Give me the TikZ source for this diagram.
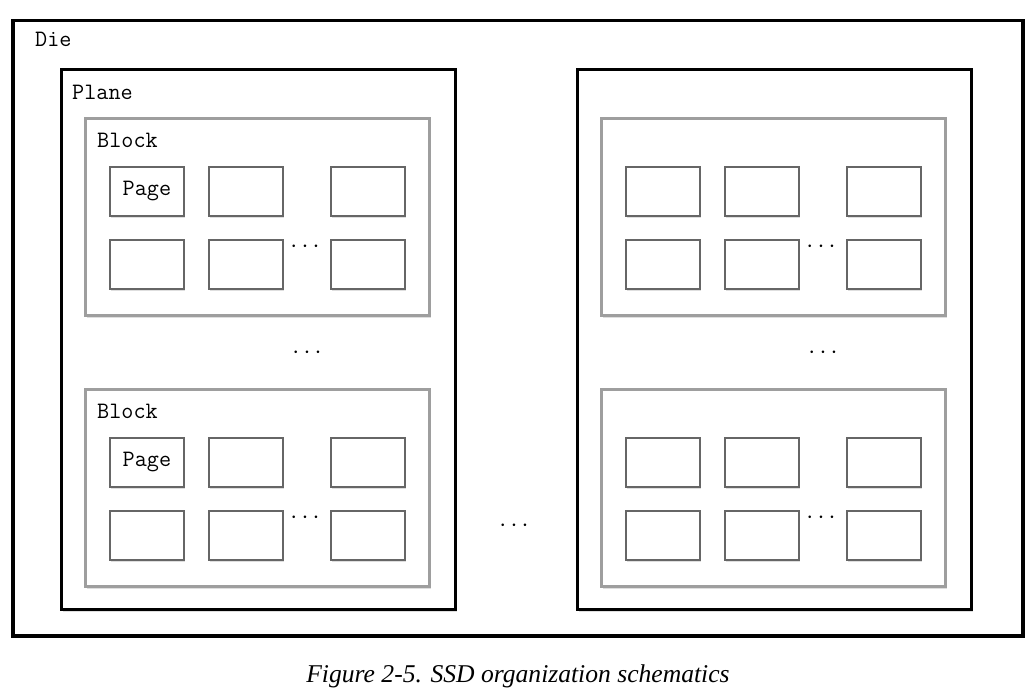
\documentclass[tikz,border=0pt]{standalone}
\usepackage{fontspec}
\newfontfamily\capfont{Liberation Serif}
\usetikzlibrary{shadows}

\tikzset{
  softshadow/.style={drop shadow={shadow xshift=1pt, shadow yshift=-2.5pt, opacity=0.13, fill=black}},
  framebox/.style={draw=black, line width=3pt, anchor=north west, inner sep=0pt},
  blockbox/.style={draw=black!38, line width=3pt, fill=white, anchor=north west,
    inner sep=0pt, minimum width=344pt, minimum height=197pt, softshadow},
  pagebox/.style={draw=black!60, line width=1.8pt, fill=white, anchor=north west,
    inner sep=0pt, minimum width=74pt, minimum height=49pt, softshadow,
    font=\fontsize{23.5}{23.5}\selectfont\ttfamily},
  lbl/.style={font=\fontsize{23.5}{23.5}\selectfont\ttfamily, anchor=base west, inner sep=0pt},
  dotsnode/.style={font=\fontsize{34}{34}\selectfont, inner sep=0pt},
  % one block: frame, optional label, 2x3 pages and the elision dots
  pics/ssdblock/.style 2 args={code={
    \node[blockbox] (-box) at (0,0) {};
    \node[lbl] (-lbl) at (13,31) {#1};
    \node[pagebox] (-p11) at (25,49) {#2};
    \node[pagebox] (-p12) at (124,49) {};
    \node[pagebox] (-p13) at (246,49) {};
    \node[pagebox] (-p21) at (25,122) {};
    \node[pagebox] (-p22) at (124,122) {};
    \node[pagebox] (-p23) at (246,122) {};
    \node[dotsnode] (-dots) at (221,130) {$\cdots$};
  }},
}

\begin{document}
\begin{tikzpicture}[x=1pt,y=-1pt]
  \useasboundingbox (0,0) rectangle (1034,700);

  % die
  \node[framebox, line width=3.5pt, minimum width=1010pt, minimum height=615pt] (die) at (11,19) {};
  \node[lbl] (dielbl) at (35,47) {Die};

  % planes
  \node[framebox, minimum width=394pt, minimum height=540pt, softshadow, fill=white] (plane1) at (60,68) {};
  \node[framebox, minimum width=394pt, minimum height=540pt, softshadow, fill=white] (plane2) at (576,68) {};
  \node[lbl] (planelbl) at (72,100) {Plane};

  % blocks of the first plane
  \pic (b11) at (84,117) {ssdblock={Block}{Page}};
  \pic (b12) at (84,388) {ssdblock={Block}{Page}};
  \node[dotsnode] (pdots1) at (307,353) {$\cdots$};

  % blocks of the second plane
  \pic (b21) at (600,117) {ssdblock={}{}};
  \pic (b22) at (600,388) {ssdblock={}{}};
  \node[dotsnode] (pdots2) at (823,353) {$\cdots$};

  % more planes
  \node[dotsnode] (diedots) at (514,526) {$\cdots$};

  % caption
  \node[font=\capfont\itshape\fontsize{25.6}{25.6}\selectfont, inner sep=0pt] (caption) at (518,676)
    {Figure 2-5. SSD organization schematics};
\end{tikzpicture}
\end{document}
